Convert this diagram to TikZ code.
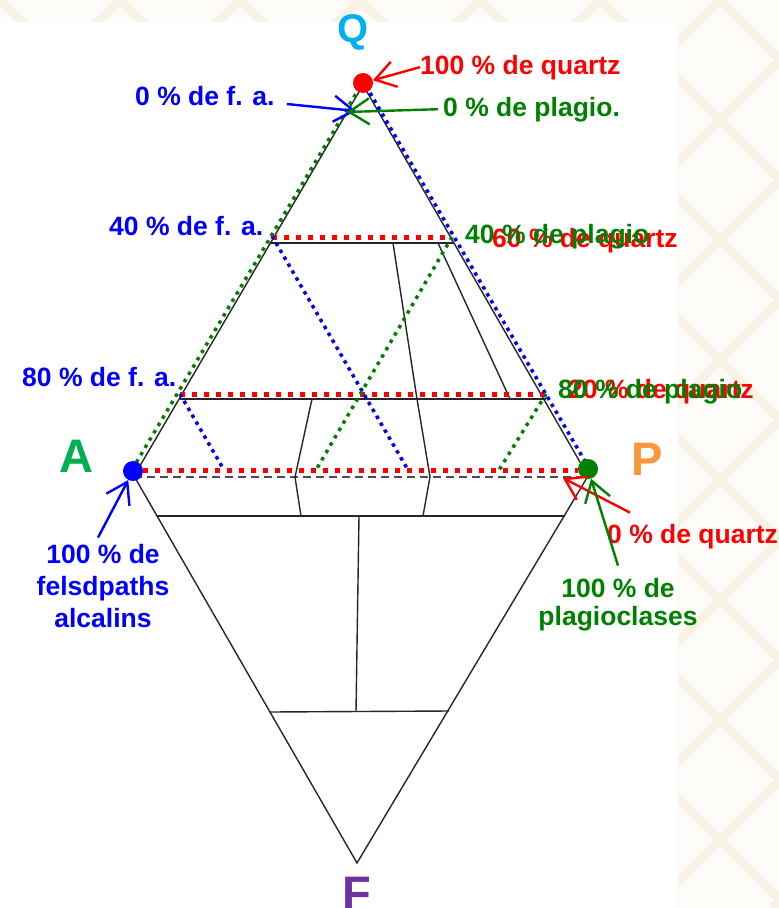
\documentclass[tikz,border=0pt]{standalone}
\usepackage{fontspec}
\setmainfont{Liberation Sans}
\usetikzlibrary{arrows.meta}
\definecolor{qcyan}{RGB}{0,176,240}
\definecolor{agreen}{RGB}{0,176,80}
\definecolor{porange}{RGB}{250,150,60}
\definecolor{fpurple}{RGB}{112,48,160}
\definecolor{fablue}{RGB}{0,0,255}
\definecolor{plgreen}{RGB}{0,128,0}
\definecolor{bgbeige}{RGB}{254,252,248}
\definecolor{motifbeige}{RGB}{248,241,230}
\begin{document}
\begin{tikzpicture}[x=1pt,y=-1pt,>={Straight Barb[length=20pt,width=26pt]}]
    \tikzstyle{every node}=[inner sep=0pt,font=\bfseries\fontsize{26.5}{31}\selectfont];
    \tikzstyle{side}=[draw,line width=1.4pt,black!85];
    \tikzstyle{zeroline}=[draw,line width=1.4pt,black!70,dash pattern=on 8pt off 5pt];
    \tikzstyle{qline}=[draw,red,line width=5pt,dash pattern=on 5pt off 7pt];
    \tikzstyle{faline}=[draw,fablue,line width=3.5pt,dash pattern=on 3.5pt off 4.5pt];
    \tikzstyle{plline}=[draw,plgreen,line width=3.5pt,dash pattern=on 3.5pt off 5pt];
    \tikzstyle{pointer}=[->,line width=2.4pt];
    \tikzstyle{vertex}=[circle,minimum size=20pt,fill];
    \tikzstyle{corner}=[anchor=base,font=\bfseries\fontsize{47}{47}\selectfont];

    \useasboundingbox (0,0) rectangle (779,908);

    % slide background
    \fill[bgbeige] (0,0) rectangle (779,908);
    \begin{scope}
        \clip (0,0) rectangle (779,908);
        \foreach \k in {-8,...,15} {
            \draw[motifbeige,line width=9pt] (\k*120,0) -- ++(908,908);
            \draw[motifbeige,line width=9pt] (\k*120,0) -- ++(-908,908);
        }
    \end{scope}
    \fill[white] (0,22) rectangle (678,908);

    \coordinate (Q) at (363,85);
    \coordinate (A) at (134,476);
    \coordinate (P) at (588,476);
    \coordinate (F) at (357,863);

    % fields
    \path[side] (Q) -- (A) -- (F) -- (P) -- cycle;
    \path[zeroline] (134,477) -- (588,477);
    \path[side] (270,243) -- (454,243);
    \path[side] (180,399) -- (546,399);
    \path[side] (393,243) -- (417,399) -- (430,477) -- (423,516);
    \path[side] (438,243) -- (510,399);
    \path[side] (312,399) -- (295,477) -- (301,516);
    \path[side] (157,516) -- (565,516);
    \path[side] (359,516) -- (356,712);
    \path[side] (270,712) -- (449,711);

    % proportions
    \path[qline] (272,237) -- (452,237);
    \path[qline] (180,394) -- (546,394);
    \path[qline] (143,470) -- (578,470);
    \path[faline] (366,86) -- (586,463);
    \path[faline] (272,236) -- (408,470);
    \path[faline] (180,394) -- (224,470);
    \path[plline] (360,87) -- (133,468);
    \path[plline] (452,237) -- (316,470);
    \path[plline] (546,394) -- (499,470);

    \node[vertex,red] (qdot) at (363,83) {};
    \node[vertex,fablue] (adot) at (133,471) {};
    \node[vertex,plgreen] (pdot) at (588,469) {};

    \node[corner,qcyan,font=\bfseries\fontsize{40}{40}\selectfont] (qname) at (353.5,42) {Q};
    \node[corner,agreen] (aname) at (76.5,472) {A};
    \node[corner,porange] (pname) at (647.5,475) {P};
    \node[corner,fpurple] (fname) at (357,909) {F};

    \node[red,anchor=base west] (q100) at (420,74) {100 \% de quartz};
    \node[plgreen,anchor=base west] (pl0) at (443,116) {0 \% de plagio.};
    \node[fablue,anchor=base west] (fa0) at (135,105) {0 \% de f. a.};
    \node[fablue,anchor=base west] (fa40) at (109,235) {40 \% de f. a.};
    \node[fablue,anchor=base west] (fa80) at (22,386) {80 \% de f. a.};
    \node[red,anchor=base west] (q60) at (492,247) {60 \% de quartz};
    \node[plgreen,anchor=base west] (pl40) at (465,243) {40 \% de plagio};
    \node[red,anchor=base west] (q20) at (568,398) {20 \% de quartz};
    \node[plgreen,anchor=base west] (pl80) at (558,398) {80 \% de plagio};
    \node[red,anchor=base west] (q0) at (607,543) {0 \% de quartz};
    \node[plgreen,anchor=base] (pl100) at (618,597) {100 \% de};
    \node[plgreen,anchor=base] (pl100b) at (618,625) {plagioclases};
    \node[fablue,anchor=base] (fa100) at (103,563) {100 \% de};
    \node[fablue,anchor=base] (fa100b) at (103,595) {felsdpaths};
    \node[fablue,anchor=base] (fa100c) at (103,627) {alcalins};

    \coordinate (tipfa) at (356,111);
    \coordinate (tippl) at (347,112);
    \coordinate (tipq) at (563,478);

    \draw[pointer,red] (q100.west) -- (qdot);
    \draw[pointer,fablue] ([xshift=12pt,yshift=1pt]fa0.base east) -- (tipfa);
    \draw[pointer,plgreen] ([xshift=-5pt]pl0.west) -- (tippl);
    \draw[pointer,fablue] ([xshift=-5pt,yshift=6pt]fa100.north) -- (adot);
    \draw[pointer,red] ([xshift=23pt,yshift=11pt]q0.north west) -- (tipq);
    \draw[pointer,plgreen] ([yshift=12pt]pl100.north) -- (pdot);
\end{tikzpicture}
\end{document}
